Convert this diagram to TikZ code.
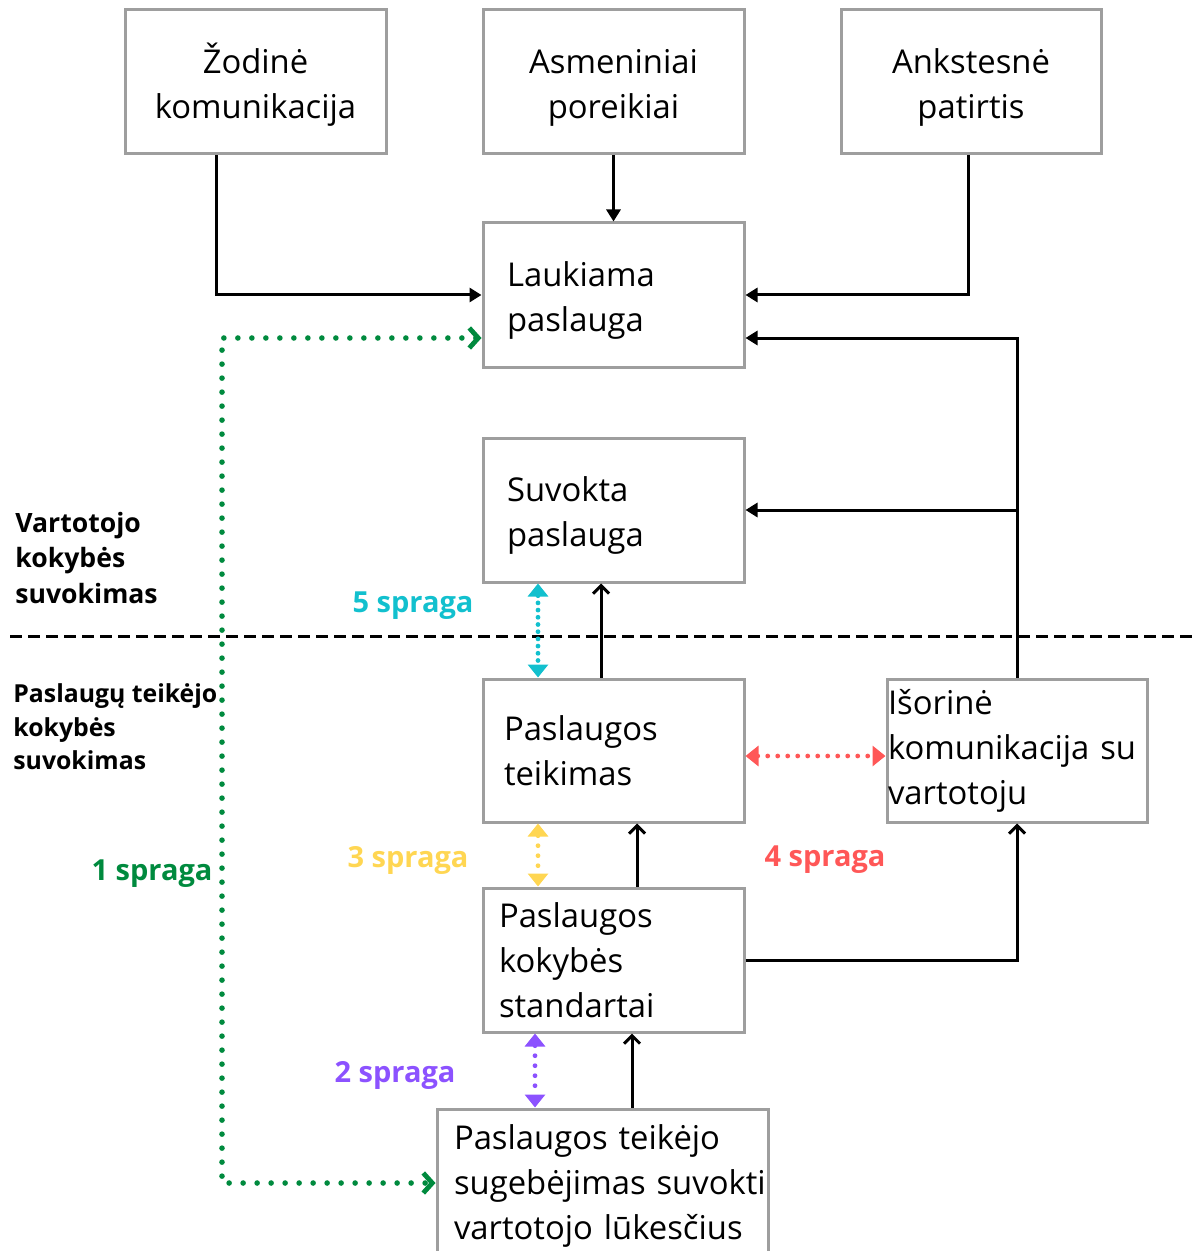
\documentclass[tikz,border=0pt]{standalone}
\usepackage{fontspec}
\setmainfont{Open Sans}
\usetikzlibrary{arrows.meta,positioning}
\definecolor{boxgray}{RGB}{158,158,158}
\definecolor{gapone}{RGB}{0,138,62}
\definecolor{gaptwo}{RGB}{140,82,255}
\definecolor{gapthree}{RGB}{255,214,82}
\definecolor{gapfour}{RGB}{255,87,87}
\definecolor{gapfive}{RGB}{18,192,206}

\begin{document}
\begin{tikzpicture}[x=0.5pt, y=-0.5pt,
    box/.style={draw=boxgray, line width=1.5pt, minimum width=130.5pt, minimum height=72pt,
      inner ysep=0pt, font=\fontsize{16.4}{22.5}\selectfont},
    lbox/.style={box, align=left},
    low/.style={execute at begin node={\rule{0pt}{17.5pt}}},
    flow/.style={line width=1.5pt, -{Triangle[length=6pt,width=7pt]}},
    up/.style={line width=1.5pt, -{Straight Barb[length=4pt,width=8pt,line width=1.5pt]}},
    gap/.style={line width=2.4pt, line cap=round, dash pattern=on 0pt off 5pt,
      {Triangle[length=6.5pt,width=10pt]}-{Triangle[length=6.5pt,width=10pt]}},
    tag/.style={font=\fontsize{14.5}{17}\selectfont\bfseries},
    side/.style={align=left, anchor=west, inner sep=0pt}]

    \useasboundingbox (0,0) rectangle (1193,1251);

    % Virsutiniai veiksniai
    \node[box, low, align=center, text width=120pt] (zod) at (255.5,82) {Žodinė\\komunikacija};
    \node[box, low, align=center, text width=120pt] (asm) at (613.5,82) {Asmeniniai\\poreikiai};
    \node[box, low, align=center, text width=120pt, minimum width=130pt] (ank) at (971,82) {Ankstesnė\\patirtis};

    % Vartotojo pusė
    \node[lbox, low, inner xsep=12pt, text width=106.5pt] (lauk) at (613.5,295) {Laukiama\\paslauga};
    \node[lbox, low, inner xsep=12pt, text width=106.5pt] (suv) at (613.5,510) {Suvokta\\paslauga};

    % Teikejo pusė
    \node[lbox, inner xsep=10.5pt, text width=109.5pt, minimum height=71.5pt] (teik) at (613.5,750.5) {Paslaugos\\teikimas};
    \node[lbox, inner xsep=0.5pt, text width=129pt, minimum width=130pt, minimum height=71.5pt] (isor) at (1017,750.5) {Išorinė\\\mbox{komunikacija su}\\vartotoju};
    \node[lbox, inner xsep=8pt, text width=114.5pt] (stand) at (613.5,960) {Paslaugos\\kokybės\\standartai};
    \node[lbox, low, inner xsep=8.5pt, text width=148.5pt, minimum width=165.5pt] (sug) at (602.5,1181) {\mbox{Paslaugos teikėjo}\\\mbox{sugebėjimas suvokti}\\\mbox{vartotojo lūkesčius}};

    % Skiriamoji linija
    \coordinate (dl) at (10,636);
    \coordinate (dr) at (1193,636);
    \draw[line width=1.5pt, dash pattern=on 6pt off 3pt] (dl) -- (dr);

    \node[side, font=\fontsize{13.3}{17.8}\selectfont\bfseries] (vart) at (15,558) {Vartotojo\\kokybės\\suvokimas};
    \node[side, font=\fontsize{12.4}{16.8}\selectfont\bfseries] (teikj) at (13,727) {Paslaugų teikėjo\\kokybės\\suvokimas};

    % Rodyklės
    \coordinate (zx) at (216,0);
    \coordinate (ax) at (968,0);
    \coordinate (ly) at (0,338);
    \coordinate (tx) at (601,0);
    \coordinate (sx) at (637,0);
    \coordinate (gx) at (632,0);
    \draw[flow] (zod.south -| zx) |- (lauk.west);
    \draw[flow] (asm.south) -- (lauk.north);
    \draw[flow] (ank.south -| ax) |- (lauk.east);
    \draw[flow] (isor.north) |- (lauk.east |- ly);
    \draw[flow] (isor.north |- suv.east) -- (suv.east);
    \draw[up] (teik.north -| tx) -- (suv.south -| tx);
    \draw[up] (stand.north -| sx) -- (teik.south -| sx);
    \draw[up] (stand.east) -| (isor.south);
    \draw[up] (sug.north -| gx) -- (stand.south -| gx);

    % Spragos
    \coordinate (g1) at (222,1183);
    \coordinate (s5) at (538,0);
    \coordinate (s3) at (538,0);
    \coordinate (s4) at (0,756);
    \coordinate (s2) at (535,0);
    \draw[gap, gapone, line width=2.8pt, dash pattern=on 0pt off 7pt,
      {Straight Barb[length=4.5pt,width=10pt,line width=2.4pt]}-{Straight Barb[length=4.5pt,width=10pt,line width=2.4pt]}]
      (lauk.west |- ly) -| (g1) -- (sug.west |- g1);
    \draw[gap, gapfive, dash pattern=on 0pt off 3.6pt] (suv.south -| s5) -- (teik.north -| s5);
    \draw[gap, gapthree] (teik.south -| s3) -- (stand.north -| s3);
    \draw[gap, gapfour] (teik.east |- s4) -- (isor.west |- s4);
    \draw[gap, gaptwo] (stand.south -| s2) -- (sug.north -| s2);

    \node[tag, text=gapone] (t1) at (152,874) {1 spraga};
    \node[tag, text=gaptwo] (t2) at (395,1075) {2 spraga};
    \node[tag, text=gapthree] (t3) at (408,860) {3 spraga};
    \node[tag, text=gapfour] (t4) at (825,860) {4 spraga};
    \node[tag, text=gapfive] (t5) at (413,606) {5 spraga};
\end{tikzpicture}
\end{document}
